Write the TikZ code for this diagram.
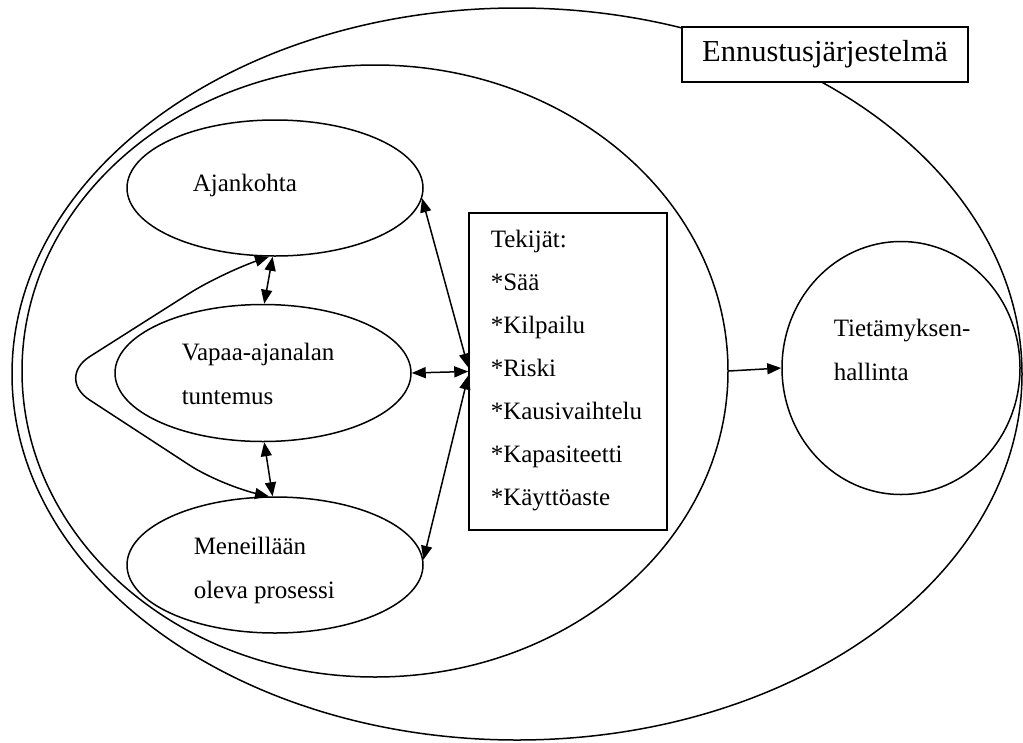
\documentclass[tikz,border=0pt]{standalone}
\usepackage{fontspec}
\setmainfont{Liberation Serif}
\usetikzlibrary{shapes.geometric,arrows.meta}
\begin{document}
\begin{tikzpicture}[x=1pt,y=-1pt, line width=1.5pt,
  oval/.style={ellipse, draw, inner sep=0pt},
  lbl/.style={anchor=base west, inner sep=0pt, align=left, font=\fontsize{25}{43.5}\selectfont},
  biarr/.style={{Triangle[length=14pt,width=11pt]}-{Triangle[length=14pt,width=11pt]}},
  onearr/.style={-{Triangle[length=14pt,width=11pt]}}
]
\useasboundingbox (0,0) rectangle (1023,742);
% big ellipses
\node[oval, minimum width=1010pt, minimum height=732pt] (outer) at (517,374) {};
\node[oval, minimum width=706pt, minimum height=612pt] (inner) at (375,371) {};
\node[draw, fill=white, minimum width=286pt, minimum height=55pt, inner sep=0pt,
  font=\fontsize{30.5}{36}\selectfont] (title) at (825,54.5) {Ennustusjärjestelmä};
% small ellipses
\node[oval, minimum width=296pt, minimum height=136pt] (ajan) at (275,188) {};
\node[oval, minimum width=296pt, minimum height=137pt] (vapaa) at (263,373) {};
\node[oval, minimum width=296pt, minimum height=136pt] (men) at (275,565) {};
% box and circle
\node[draw, minimum width=198pt, minimum height=317pt, inner sep=0pt] (box) at (568,371.5) {};
\node[oval, minimum width=238pt, minimum height=253pt] (circ) at (901,368) {};
% texts (anchor base = baseline of the last line)
\node[lbl] (tajan) at (192,191) {Ajankohta};
\node[lbl] (tvapaa) at (181,404) {Vapaa-ajanalan\\tuntemus};
\node[lbl] (tmen) at (193,598) {Meneillään\\oleva prosessi};
\node[lbl, font=\fontsize{25}{43}\selectfont] (tbox) at (490,505) {Tekijät:\\*Sää\\*Kilpailu\\*Riski\\*Kausivaihtelu\\*Kapasiteetti\\*Käyttöaste};
\node[lbl] (tcirc) at (833,380) {Tietämyksen-\\hallinta};
% connectors
\draw[biarr] (ajan.-4) -- ([yshift=4pt]box.west);
\draw[biarr] (vapaa.east) -- (box.west);
\draw[biarr] (men.2) -- ([yshift=-4pt]box.west);
\draw[biarr] (ajan.-92) -- (vapaa.89);
\draw[biarr] (vapaa.-89) -- (men.92);
\draw[biarr, rounded corners=40pt] (ajan.-95) -- (223,272) -- (56,378) -- (223,487) -- (men.95);
\draw[onearr] (inner.east) -- (circ.west);
\end{tikzpicture}
\end{document}
